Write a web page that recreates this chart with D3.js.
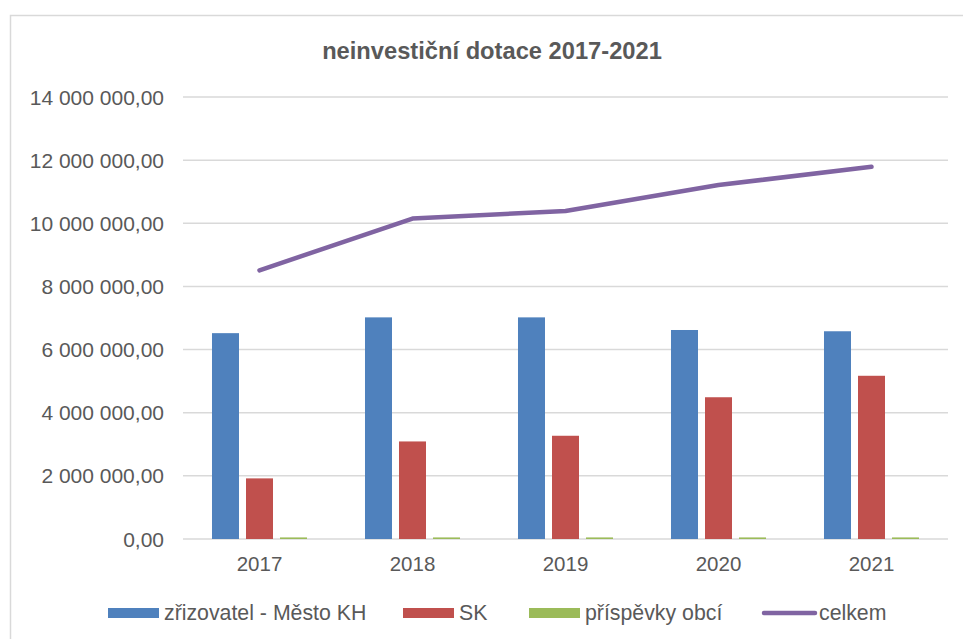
<!DOCTYPE html>
<html>
<head>
<meta charset="utf-8">
<script src="https://cdn.jsdelivr.net/npm/d3@7"></script>
<style>
  body { margin: 0; background: #fff; }
  text { font-family: "Liberation Sans", Arial, sans-serif; fill: #595959; }
</style>
</head>
<body>
<svg id="chart"></svg>
<script>
// data
const years = ["2017", "2018", "2019", "2020", "2021"];
const zrizovatel = [6520000, 7020000, 7020000, 6620000, 6580000];
const sk = [1920000, 3090000, 3270000, 4490000, 5170000];
const prispevky = [50000, 50000, 50000, 50000, 50000];
const celkem = [8510000, 10150000, 10390000, 11210000, 11790000];
const yTicks = [0, 2000000, 4000000, 6000000, 8000000, 10000000, 12000000, 14000000];
const seriesNames = ["zřizovatel - Město KH", "SK", "příspěvky obcí", "celkem"];
const colors = ["#4f81bd", "#c0504d", "#9bbb59", "#8064a2"];

const W = 963, H = 639;
const svg = d3.select("#chart").attr("width", W).attr("height", H);

// chart frame
svg.append("rect")
    .attr("x", 10.5).attr("y", 15.5)
    .attr("width", 980).attr("height", 660)
    .attr("fill", "#fff").attr("stroke", "#d9d9d9").attr("stroke-width", 1.5);

svg.append("text")
    .attr("x", 492).attr("y", 59)
    .attr("text-anchor", "middle")
    .style("font-size", "23.7px").style("font-weight", "bold")
    .text("neinvestiční dotace 2017-2021");

const plot = {left: 183, right: 948, top: 97, bottom: 539};

const x = d3.scaleBand().domain(years).range([plot.left, plot.right]);
const y = d3.scaleLinear().domain([0, 14000000]).range([plot.bottom, plot.top]);

const groupW = x.bandwidth() * 0.621;
const xSub = d3.scaleBand().domain([0, 1, 2])
    .range([-groupW / 2, groupW / 2]).paddingInner(0.206);

const fmt = d3.formatLocale({decimal: ",", thousands: "\u00a0", grouping: [3], currency: ["", ""]}).format(",.2f");

// gridlines
svg.append("g")
  .selectAll("line")
  .data(yTicks)
  .join("line")
    .attr("x1", plot.left).attr("x2", plot.right)
    .attr("y1", d => y(d)).attr("y2", d => y(d))
    .attr("stroke", "#d9d9d9").attr("stroke-width", 1.5);

// y labels
svg.append("g")
  .selectAll("text")
  .data(yTicks)
  .join("text")
    .attr("x", 164).attr("y", d => y(d))
    .attr("dy", "0.36em")
    .attr("text-anchor", "end")
    .style("font-size", "21px")
    .text(d => fmt(d));

// x labels
svg.append("g")
  .selectAll("text")
  .data(years)
  .join("text")
    .attr("x", d => x(d) + x.bandwidth() / 2)
    .attr("y", 571)
    .attr("text-anchor", "middle")
    .style("font-size", "20.5px")
    .text(d => d);

// bars
const barSeries = [zrizovatel, sk, prispevky];
barSeries.forEach((vals, si) => {
    svg.append("g")
      .selectAll("rect")
      .data(vals)
      .join("rect")
        .attr("x", (d, i) => x(years[i]) + x.bandwidth() / 2 + xSub(si))
        .attr("width", xSub.bandwidth())
        .attr("y", d => y(d))
        .attr("height", d => y(0) - y(d))
        .attr("fill", colors[si]);
});

// line
const line = d3.line()
    .x((d, i) => x(years[i]) + x.bandwidth() / 2)
    .y(d => y(d));

svg.append("path")
    .datum(celkem)
    .attr("d", line)
    .attr("fill", "none")
    .attr("stroke", colors[3])
    .attr("stroke-width", 4.5)
    .attr("stroke-linecap", "round")
    .attr("stroke-linejoin", "round");

// legend (swatch positions as laid out in the original)
const legendX = [108, 403, 529, 762];
const legend = svg.append("g");
seriesNames.forEach((name, i) => {
    const lx = legendX[i];
    if (i < 3) {
        legend.append("rect")
            .attr("x", lx).attr("y", 608)
            .attr("width", 51).attr("height", 10)
            .attr("fill", colors[i]);
    } else {
        legend.append("line")
            .attr("x1", lx + 2).attr("x2", lx + 53)
            .attr("y1", 613).attr("y2", 613)
            .attr("stroke", colors[i]).attr("stroke-width", 4.5)
            .attr("stroke-linecap", "round");
    }
    legend.append("text")
        .attr("x", lx + (i < 3 ? 56 : 57)).attr("y", 620)
        .style("font-size", "21.3px")
        .text(name);
});
</script>
</body>
</html>
